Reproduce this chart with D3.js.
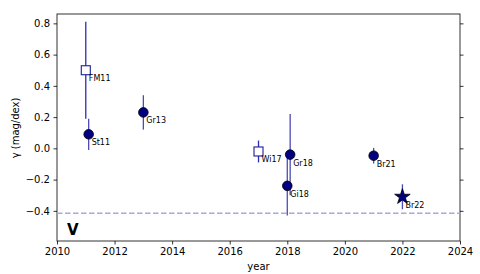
<!DOCTYPE html>
<html><head><meta charset="utf-8">
<script src="https://cdn.jsdelivr.net/npm/d3@7"></script>
<style>body{margin:0;background:#fff}text{font-family:"DejaVu Sans",sans-serif}</style>
</head><body>
<svg id="c" width="480" height="274"></svg>
<script>
const labels = ["FM11","St11","Gr13","Wi17","Gr18","Gi18","Br21","Br22"];
const years  = [2011.0, 2011.1, 2013.0, 2017.0, 2018.1, 2018.0, 2021.0, 2022.0];
const gammas = [0.50, 0.09, 0.23, -0.02, -0.04, -0.24, -0.047, -0.31];
const errs   = [0.31, 0.10, 0.11, 0.07, 0.26, 0.19, 0.05, 0.08];
const markers= ["square","circle","circle","square","circle","circle","circle","star"];
const xTicks = [2010,2012,2014,2016,2018,2020,2022,2024];
const yTicks = [-0.4,-0.2,0.0,0.2,0.4,0.6,0.8];
const refLine = -0.415;
const bandLabel = "V";

const svg = d3.select("#c");
const m = {l:57, r:460, t:14, b:241};
const x = d3.scaleLinear().domain([2010,2024]).range([m.l,m.r]);
const y = d3.scaleLinear().domain([-0.593,0.86]).range([m.b,m.t]);

const fmt = d => d.toFixed(1).replace("-","\u2212");
const ax = (g)=>{g.selectAll("text").attr("font-size",10).attr("fill","#000");g.select(".domain").remove();g.selectAll("line").attr("stroke","#000").attr("stroke-width",0.8);};
svg.append("g").attr("transform",`translate(0,${m.b})`).call(d3.axisBottom(x).tickValues(xTicks).tickFormat(d3.format("d")).tickSize(3.5).tickPadding(3.5)).call(ax);
svg.append("g").attr("transform",`translate(${m.l},0)`).call(d3.axisLeft(y).tickValues(yTicks).tickFormat(fmt).tickSize(3.5).tickPadding(3.5)).call(ax);
svg.append("g").attr("transform",`translate(${m.r},0)`).call(d3.axisRight(y).tickValues(yTicks).tickFormat("").tickSize(3.5)).call(ax);

svg.append("rect").attr("x",m.l).attr("y",m.t).attr("width",m.r-m.l).attr("height",m.b-m.t)
  .attr("fill","none").attr("stroke","#000").attr("stroke-width",0.8);

svg.append("line").attr("x1",m.l).attr("x2",m.r).attr("y1",y(refLine)).attr("y2",y(refLine))
  .attr("stroke","#a9a9dc").attr("stroke-width",1.5).attr("stroke-dasharray","5.5,2.5");

const data = labels.map((l,i)=>({l,x:years[i],y:gammas[i],e:errs[i],m:markers[i]}));
const g = svg.append("g");
data.forEach(d=>{
  g.append("line").attr("x1",x(d.x)).attr("x2",x(d.x)).attr("y1",y(d.y+d.e)).attr("y2",y(d.y-d.e))
   .attr("stroke", d.m==="square"?"#2c2cb0":"#4b4bb8").attr("stroke-width",1.3);
});
data.forEach(d=>{
  const cx=x(d.x), cy=y(d.y);
  if(d.m==="circle") g.append("circle").attr("cx",cx).attr("cy",cy).attr("r",4.8).attr("fill","#000080").attr("stroke","#000").attr("stroke-width",0.8);
  else if(d.m==="square") g.append("rect").attr("x",cx-4.5).attr("y",cy-4.5).attr("width",9).attr("height",9).attr("fill","#fff").attr("stroke","#1c1c9c").attr("stroke-width",1.1);
  else g.append("path").attr("transform",`translate(${cx},${cy})`).attr("d",d3.symbol(d3.symbolStar,75)()).attr("fill","#000080").attr("stroke","#000").attr("stroke-width",0.8);
  g.append("text").attr("x",cx+3).attr("y",cy+11).attr("font-size",8).text(d.l);
});

svg.append("text").attr("x",67).attr("y",235).attr("font-size",15).attr("font-weight","bold").text(bandLabel);
svg.append("text").attr("x",(m.l+m.r)/2).attr("y",270).attr("text-anchor","middle").attr("font-size",10).text("year");
svg.append("text").attr("transform","translate(19,128) rotate(-90)").attr("text-anchor","middle").attr("font-size",10).text("\u03b3 (mag/dex)");
</script>
</body></html>
